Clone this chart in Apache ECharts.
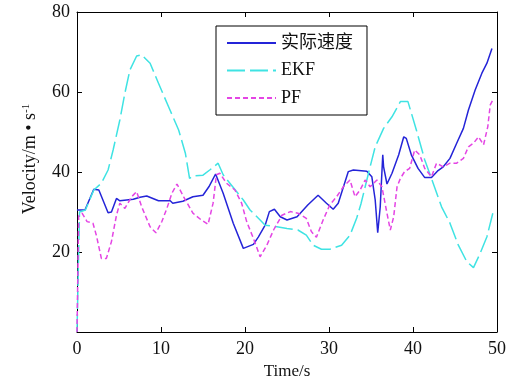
<!DOCTYPE html>
<html>
<head>
<meta charset="utf-8">
<script src="https://cdn.jsdelivr.net/npm/echarts@6/dist/echarts.min.js"></script>
<style>
  html, body { margin: 0; padding: 0; background: #fff; }
  #chart { width: 519px; height: 378px; }
</style>
</head>
<body>
<div id="chart"></div>
<script>
// series names
const names = ['实际速度', 'EKF', 'PF']

// actual speed (blue)
const actualT = [0, 0.95, 2, 2.6, 3.7, 4.1, 4.7, 5.1, 6.7, 7.5, 8.3, 9.7, 11.1, 11.4, 12.6, 13.8, 15, 15.7, 16.5, 17.4,
  18.6, 19.8, 21, 21.6, 22.4, 22.9, 23.5, 24.2, 25, 26.2, 27.5, 28.7, 29.7, 30.5, 31.1, 32.3, 32.9, 34.5, 35.1, 35.5,
  35.8, 36.1, 36.4, 36.5, 36.9, 37.5, 38.3, 38.9, 39.2, 39.8, 40.6, 41.4, 42.2, 42.9, 43.6, 44.4, 45.2, 46, 46.6, 47.4,
  48.2, 48.8, 49.4]
const actualV = [30.5, 30.5, 35.7, 35.5, 29.8, 30, 33.4, 32.8, 33.2, 33.7, 34, 32.8, 32.8, 32.2, 32.7, 33.8, 34.2, 36.3, 39.5, 34.7,
  27.2, 20.9, 21.9, 23.8, 26.7, 30.1, 30.7, 28.8, 28, 28.8, 31.8, 34.2, 32.2, 30.7, 32.2, 40.1, 40.5, 40.2, 38.8, 33,
  24.8, 31.3, 44.3, 41.3, 37, 39.7, 44.3, 48.8, 48.4, 44.3, 40.9, 38.6, 38.6, 40.2, 41.3, 43.4, 47.2, 50.9, 55.5, 60.5,
  64.7, 67.2, 70.9]

// EKF estimate (cyan)
const ekfT = [0, 0.3, 1, 2, 2.9, 3.7, 4.3, 5.1, 5.7, 6.3, 7.1, 7.7, 8.7, 9.7, 10.9, 12.1, 12.9, 13.4, 13.8, 15,
  15.8, 16.8, 17.4, 18.2, 19.8, 20.6, 21.8, 22.4, 23.8, 25, 26.3, 27.3, 28.1, 29.1, 30.1, 31.5, 32.5, 33.3, 33.8, 34.7,
  35.5, 36.5, 37.5, 38.5, 39.4, 40.4, 41.4, 42.4, 43.4, 44.4, 45.4, 46.4, 47.2, 48, 48.8, 49.5]
const ekfV = [0, 30, 30.5, 35.5, 37.2, 40.5, 45.5, 53, 59.7, 65.5, 69, 69.3, 67.2, 62.2, 56.3, 50.5, 44.7, 38.4, 39, 39.2,
  40.5, 42.2, 39.3, 37.2, 33, 30.5, 28, 26.7, 26.3, 25.9, 25.5, 24.2, 21.7, 20.7, 20.7, 21.7, 24.2, 28.5, 32, 39.7,
  46.3, 50.9, 53.8, 57.6, 57.6, 50.5, 43, 37.2, 31.3, 27.2, 21.7, 17.6, 16.1, 19.7, 23.8, 29.7]

// PF estimate (magenta)
const pfT = [0, 0.2, 0.6, 1.2, 1.9, 2.3, 2.9, 3.5, 4.1, 4.7, 5.1, 5.7, 6.5, 7.1, 7.7, 8.7, 9.4, 10.1, 10.7, 11.3,
  11.9, 12.7, 13.8, 14.8, 15.6, 16.2, 16.6, 17, 17.8, 18.8, 19.6, 20.2, 21, 21.8, 22.6, 23.4, 24.4, 25.4, 26.3, 27.3,
  27.9, 28.5, 29.3, 30.1, 30.9, 31.7, 32.5, 33.1, 33.7, 34.3, 34.9, 35.7, 36.3, 36.9, 37.3, 37.7, 38.1, 38.5, 39, 39.6,
  40.2, 40.8, 41.4, 42.2, 42.8, 43.6, 44.4, 45.2, 46, 46.6, 47.2, 47.8, 48.4, 48.9, 49.2, 49.5]
const pfV = [0, 29, 29.7, 27.6, 27.2, 24.2, 18.4, 18.4, 22.6, 29.2, 32.2, 30.9, 33.8, 35.1, 31.3, 26.3, 24.8, 27.6, 30.9, 34.7,
  37, 33.8, 29.7, 28, 26.9, 32.2, 39.3, 39.7, 37.2, 35.5, 32.2, 27.6, 23.4, 18.8, 21.7, 25.5, 29.2, 30.1, 29.7, 28.4,
  25.1, 23.7, 28, 31.8, 33.8, 36.3, 38, 33.8, 35.5, 38, 36.3, 38, 36.3, 29.7, 25.5, 28.8, 36.3, 38.4, 40.1, 40.9,
  45.5, 44.3, 40.9, 38.8, 42.2, 41.3, 42.2, 42.2, 43.4, 46.3, 47.2, 48.8, 46.8, 51.3, 56.8, 58]

// axis ticks
const xTicks = [0, 10, 20, 30, 40, 50]
const yTicks = [0, 20, 40, 60, 80]

const serif = '"Liberation Serif", "Times New Roman", serif'
const cjk = '"Liberation Serif", "Noto Sans CJK SC", serif'

function pairs(t, v){
  return t.map((x, i) => [x, v[i]])
}

let chart = echarts.init(document.getElementById('chart'), null, { renderer: 'canvas' })

const tickStyle = { show: true, inside: true, length: 5, lineStyle: { color: '#000', width: 1 } }
const lineAx = { show: true, onZero: false, lineStyle: { color: '#000', width: 1 } }

let option = {
  animation: false,
  backgroundColor: '#fff',
  grid: { left: 77, right: 22, top: 12, bottom: 46, show: false, containLabel: false, outerBoundsMode: 'none' },
  legend: {
    data: names,
    orient: 'vertical',
    left: 216,
    top: 26,
    padding: [8, 14, 8, 10],
    itemWidth: 49,
    itemHeight: 14,
    itemGap: 9.5,
    borderColor: '#000',
    borderWidth: 1,
    backgroundColor: '#fff',
    // hide the marker dot, keep only the line sample
    itemStyle: { opacity: 0 },
    textStyle: { fontFamily: cjk, fontSize: 18, color: '#111', lineHeight: 18 }
  },
  xAxis: [
    {
      type: 'value', min: xTicks[0], max: xTicks[xTicks.length - 1], interval: 10,
      axisLine: lineAx, axisTick: tickStyle, splitLine: { show: false },
      axisLabel: { fontFamily: serif, fontSize: 18, color: '#111', margin: 8 },
      name: 'Time/s', nameLocation: 'middle', nameGap: 30,
      nameTextStyle: { fontFamily: serif, fontSize: 17, color: '#111' }
    },
    {
      type: 'value', position: 'top', min: 0, max: 50, interval: 10,
      axisLine: lineAx, axisTick: tickStyle, axisLabel: { show: false }, splitLine: { show: false }
    }
  ],
  yAxis: [
    {
      type: 'value', min: yTicks[0], max: yTicks[yTicks.length - 1], interval: 20,
      axisLine: lineAx, axisTick: tickStyle, splitLine: { show: false },
      axisLabel: { fontFamily: serif, fontSize: 18, color: '#111', margin: 7, showMinLabel: false }
    },
    {
      type: 'value', position: 'right', min: 0, max: 80, interval: 20,
      axisLine: lineAx, axisTick: tickStyle, axisLabel: { show: false }, splitLine: { show: false }
    }
  ],
  graphic: [
    {
      type: 'text',
      x: 30,
      y: 159,
      rotation: Math.PI / 2,
      style: {
        text: 'Velocity/m \u2022 s{sup|-1}',
        fontFamily: serif,
        fontSize: 18,
        fill: '#111',
        align: 'center',
        verticalAlign: 'middle',
        rich: {
          sup: { fontFamily: serif, fontSize: 11, verticalAlign: 'top', lineHeight: 12, fill: '#111' }
        }
      }
    }
  ],
  series: [
    {
      name: names[0], type: 'line', data: pairs(actualT, actualV),
      symbol: 'none', showSymbol: false,
      lineStyle: { color: '#2424d8', width: 1.5 }, itemStyle: { color: '#2424d8' }
    },
    {
      name: names[1], type: 'line', data: pairs(ekfT, ekfV),
      symbol: 'none', showSymbol: false,
      lineStyle: { color: '#3fe3e3', width: 1.5, type: [18, 5] }, itemStyle: { color: '#3fe3e3' }
    },
    {
      name: names[2], type: 'line', data: pairs(pfT, pfV),
      symbol: 'none', showSymbol: false,
      lineStyle: { color: '#e445e4', width: 1.5, type: [5, 3] }, itemStyle: { color: '#e445e4' }
    }
  ]
}

chart.setOption(option)
window.addEventListener('resize', () => {
  chart.resize()
})
</script>
</body>
</html>
